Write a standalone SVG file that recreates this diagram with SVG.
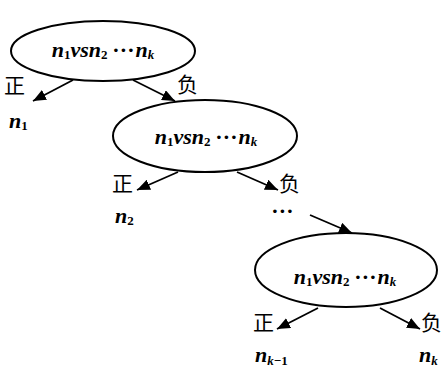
<svg xmlns="http://www.w3.org/2000/svg" width="441" height="369" viewBox="0 0 441 369">
  <style>
    .node { fill: #fff; stroke: #000; stroke-width: 2; }
    .expr { font-family: "Liberation Serif", "Times New Roman", serif; font-weight: bold; font-style: italic; font-size: 22px; fill: #000; }
    .sub { font-size: 13px; }
    .num { font-style: normal; }
    .dots { letter-spacing: 2px; }
    .cjk { font-family: "Noto Sans CJK SC", sans-serif; font-size: 21px; fill: #000; }
    .edge { stroke: #000; stroke-width: 1.8; fill: none; marker-end: url(#head); }
  </style>
  <defs>
    <marker id="head" markerUnits="userSpaceOnUse" markerWidth="14" markerHeight="11" refX="13" refY="5.5" orient="auto">
      <path d="M0,0 L13,5.5 L0,11 z" fill="#000"/>
    </marker>
  </defs>
  <rect width="441" height="369" fill="#fff"/>

  <g id="connectors">
    <line class="edge" x1="73" y1="80" x2="33" y2="101"/>
    <line class="edge" x1="133" y1="80" x2="175" y2="101"/>
    <line class="edge" x1="178" y1="172" x2="137" y2="190"/>
    <line class="edge" x1="237" y1="172" x2="278" y2="190"/>
    <line class="edge" x1="310" y1="215" x2="352" y2="233"/>
    <line class="edge" x1="318" y1="308" x2="277" y2="329"/>
    <line class="edge" x1="380" y1="308" x2="420" y2="329"/>
  </g>

  <g id="node1">
    <ellipse class="node" cx="103" cy="51" rx="92" ry="30"/>
    <text class="expr" x="103" y="57" text-anchor="middle">n<tspan class="sub num" dy="2">1</tspan><tspan dy="-2">vsn</tspan><tspan class="sub num" dy="2">2</tspan><tspan dy="-2"> </tspan><tspan class="dots">···</tspan>n<tspan class="sub" dy="2">k</tspan></text>
  </g>

  <g id="node2">
    <ellipse class="node" cx="205" cy="136" rx="92" ry="36"/>
    <text class="expr" x="206" y="144" text-anchor="middle">n<tspan class="sub num" dy="2">1</tspan><tspan dy="-2">vsn</tspan><tspan class="sub num" dy="2">2</tspan><tspan dy="-2"> </tspan><tspan class="dots">···</tspan>n<tspan class="sub" dy="2">k</tspan></text>
  </g>

  <g id="node3">
    <ellipse class="node" cx="346" cy="270" rx="91" ry="37"/>
    <text class="expr" x="345" y="284" text-anchor="middle">n<tspan class="sub num" dy="2">1</tspan><tspan dy="-2">vsn</tspan><tspan class="sub num" dy="2">2</tspan><tspan dy="-2"> </tspan><tspan class="dots">···</tspan>n<tspan class="sub" dy="2">k</tspan></text>
  </g>

  <g id="labels">
    <text class="cjk" x="4" y="93">正</text>
    <text class="cjk" x="177" y="92">负</text>
    <text class="cjk" x="112" y="191">正</text>
    <text class="cjk" x="279" y="191">负</text>
    <text class="cjk" x="253" y="330">正</text>
    <text class="cjk" x="421" y="330">负</text>
  </g>

  <g id="leaf-n1">
    <text class="expr" x="9" y="128">n<tspan class="sub num" dy="2">1</tspan></text>
  </g>
  <g id="leaf-n2">
    <text class="expr" x="115" y="223">n<tspan class="sub num" dy="2">2</tspan></text>
  </g>
  <g id="ellipsis">
    <text class="expr dots" x="272" y="218">···</text>
  </g>
  <g id="leaf-nk-1">
    <text class="expr" x="255" y="362">n<tspan class="sub" dy="3">k</tspan><tspan class="sub num">−1</tspan></text>
  </g>
  <g id="leaf-nk">
    <text class="expr" x="419" y="362">n<tspan class="sub" dy="3">k</tspan></text>
  </g>
</svg>
